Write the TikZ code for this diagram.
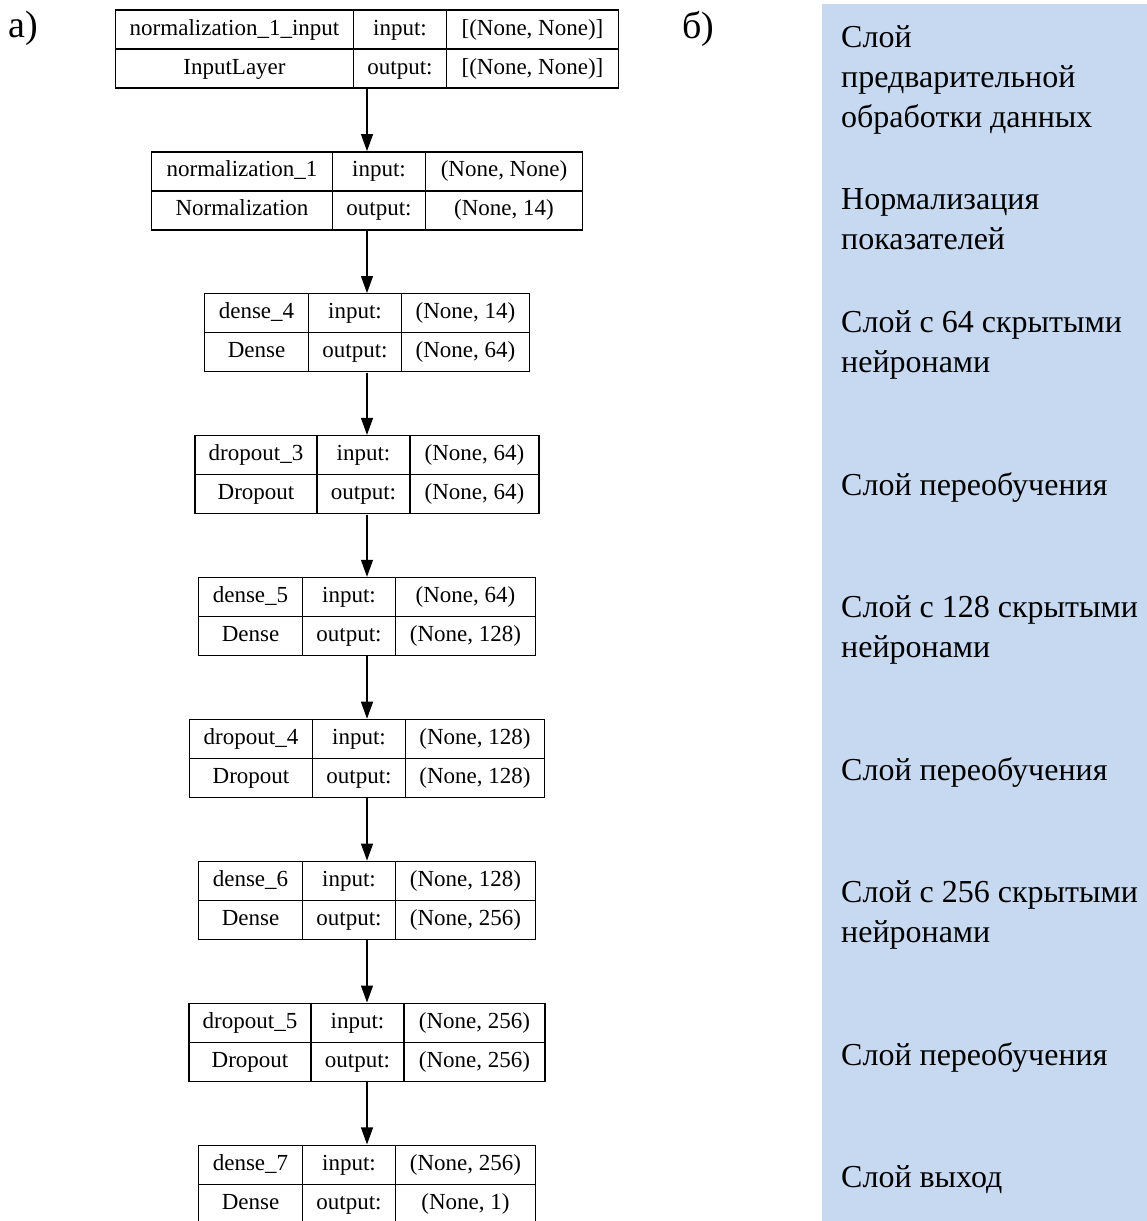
\documentclass[tikz,border=0pt]{standalone}
\usepackage{fontspec}
\setmainfont{Liberation Serif}
\usetikzlibrary{arrows.meta,positioning,matrix}
\definecolor{panel}{HTML}{C6D9F0}
\tikzset{
  layer/.style={matrix of nodes,inner sep=0pt,column sep=-1.2pt,row sep=-1.2pt,
    nodes={draw=black,line width=1.2pt,minimum height=39pt,inner sep=0pt,
      text height=16pt,text depth=5pt,font=\fontsize{23}{25}\selectfont},
    column 2/.style={nodes={minimum width=93pt}}},
  arrow/.style={-{Triangle[length=17pt,width=12pt]},line width=1.2pt,draw=black},
  caption/.style={font=\fontsize{38}{42}\selectfont,anchor=base west,inner sep=0pt},
  note/.style={font=\fontsize{32}{40}\selectfont,align=left,anchor=base west,inner sep=0pt}
}
\begin{document}
\begin{tikzpicture}[x=1pt,y=-1pt]
  \useasboundingbox (0,0) rectangle (1147,1221);

  % a) keras model plot
  \node[caption] (parta) at (8,37) {а)};
  \matrix[layer,column 1/.style={nodes={minimum width=238pt}},
    column 3/.style={nodes={minimum width=172pt}}] (l1) at (367,49) {
    normalization\_1\_input & input: & {[(None, None)]} \\
    InputLayer & output: & {[(None, None)]} \\
  };
  \matrix[layer,below=62.3pt of l1,column 1/.style={nodes={minimum width=181pt}},
    column 3/.style={nodes={minimum width=157pt}}] (l2) {
    normalization\_1 & input: & (None, None) \\
    Normalization & output: & (None, 14) \\
  };
  \matrix[layer,below=62.3pt of l2,column 1/.style={nodes={minimum width=104pt}},
    column 3/.style={nodes={minimum width=128pt}}] (l3) {
    dense\_4 & input: & (None, 14) \\
    Dense & output: & (None, 64) \\
  };
  \matrix[layer,below=62.3pt of l3,column 1/.style={nodes={minimum width=122pt}},
    column 3/.style={nodes={minimum width=129pt}}] (l4) {
    dropout\_3 & input: & (None, 64) \\
    Dropout & output: & (None, 64) \\
  };
  \matrix[layer,below=62.3pt of l4,column 1/.style={nodes={minimum width=104pt}},
    column 3/.style={nodes={minimum width=140pt}}] (l5) {
    dense\_5 & input: & (None, 64) \\
    Dense & output: & (None, 128) \\
  };
  \matrix[layer,below=62.3pt of l5,column 1/.style={nodes={minimum width=123pt}},
    column 3/.style={nodes={minimum width=139pt}}] (l6) {
    dropout\_4 & input: & (None, 128) \\
    Dropout & output: & (None, 128) \\
  };
  \matrix[layer,below=62.3pt of l6,column 1/.style={nodes={minimum width=104pt}},
    column 3/.style={nodes={minimum width=140pt}}] (l7) {
    dense\_6 & input: & (None, 128) \\
    Dense & output: & (None, 256) \\
  };
  \matrix[layer,below=62.3pt of l7,column 1/.style={nodes={minimum width=122pt}},
    column 3/.style={nodes={minimum width=141pt}}] (l8) {
    dropout\_5 & input: & (None, 256) \\
    Dropout & output: & (None, 256) \\
  };
  \matrix[layer,below=62.3pt of l8,column 1/.style={nodes={minimum width=104pt}},
    column 3/.style={nodes={minimum width=140pt}}] (l9) {
    dense\_7 & input: & (None, 256) \\
    Dense & output: & (None, 1) \\
  };

  \draw[arrow] (l1) -- (l2);
  \draw[arrow] (l2) -- (l3);
  \draw[arrow] (l3) -- (l4);
  \draw[arrow] (l4) -- (l5);
  \draw[arrow] (l5) -- (l6);
  \draw[arrow] (l6) -- (l7);
  \draw[arrow] (l7) -- (l8);
  \draw[arrow] (l8) -- (l9);

  % b) description of the layers (base = last line)
  \node[caption] (partb) at (682,38) {б)};
  \fill[panel] (822,4) rectangle (1147,1221);
  \node[note] (prep) at (841,127) {Слой\\предварительной\\обработки данных};
  \node[note] (norm) at (841,249) {Нормализация\\показателей};
  \node[note] (d64) at (841,372) {Слой с 64 скрытыми\\нейронами};
  \node[note] (drop1) at (841,495) {Слой переобучения};
  \node[note] (d128) at (841,657) {Слой с 128 скрытыми\\нейронами};
  \node[note] (drop2) at (841,780) {Слой переобучения};
  \node[note] (d256) at (841,942) {Слой с 256 скрытыми\\нейронами};
  \node[note] (drop3) at (841,1065) {Слой переобучения};
  \node[note] (outl) at (841,1187) {Слой выход};
\end{tikzpicture}
\end{document}
